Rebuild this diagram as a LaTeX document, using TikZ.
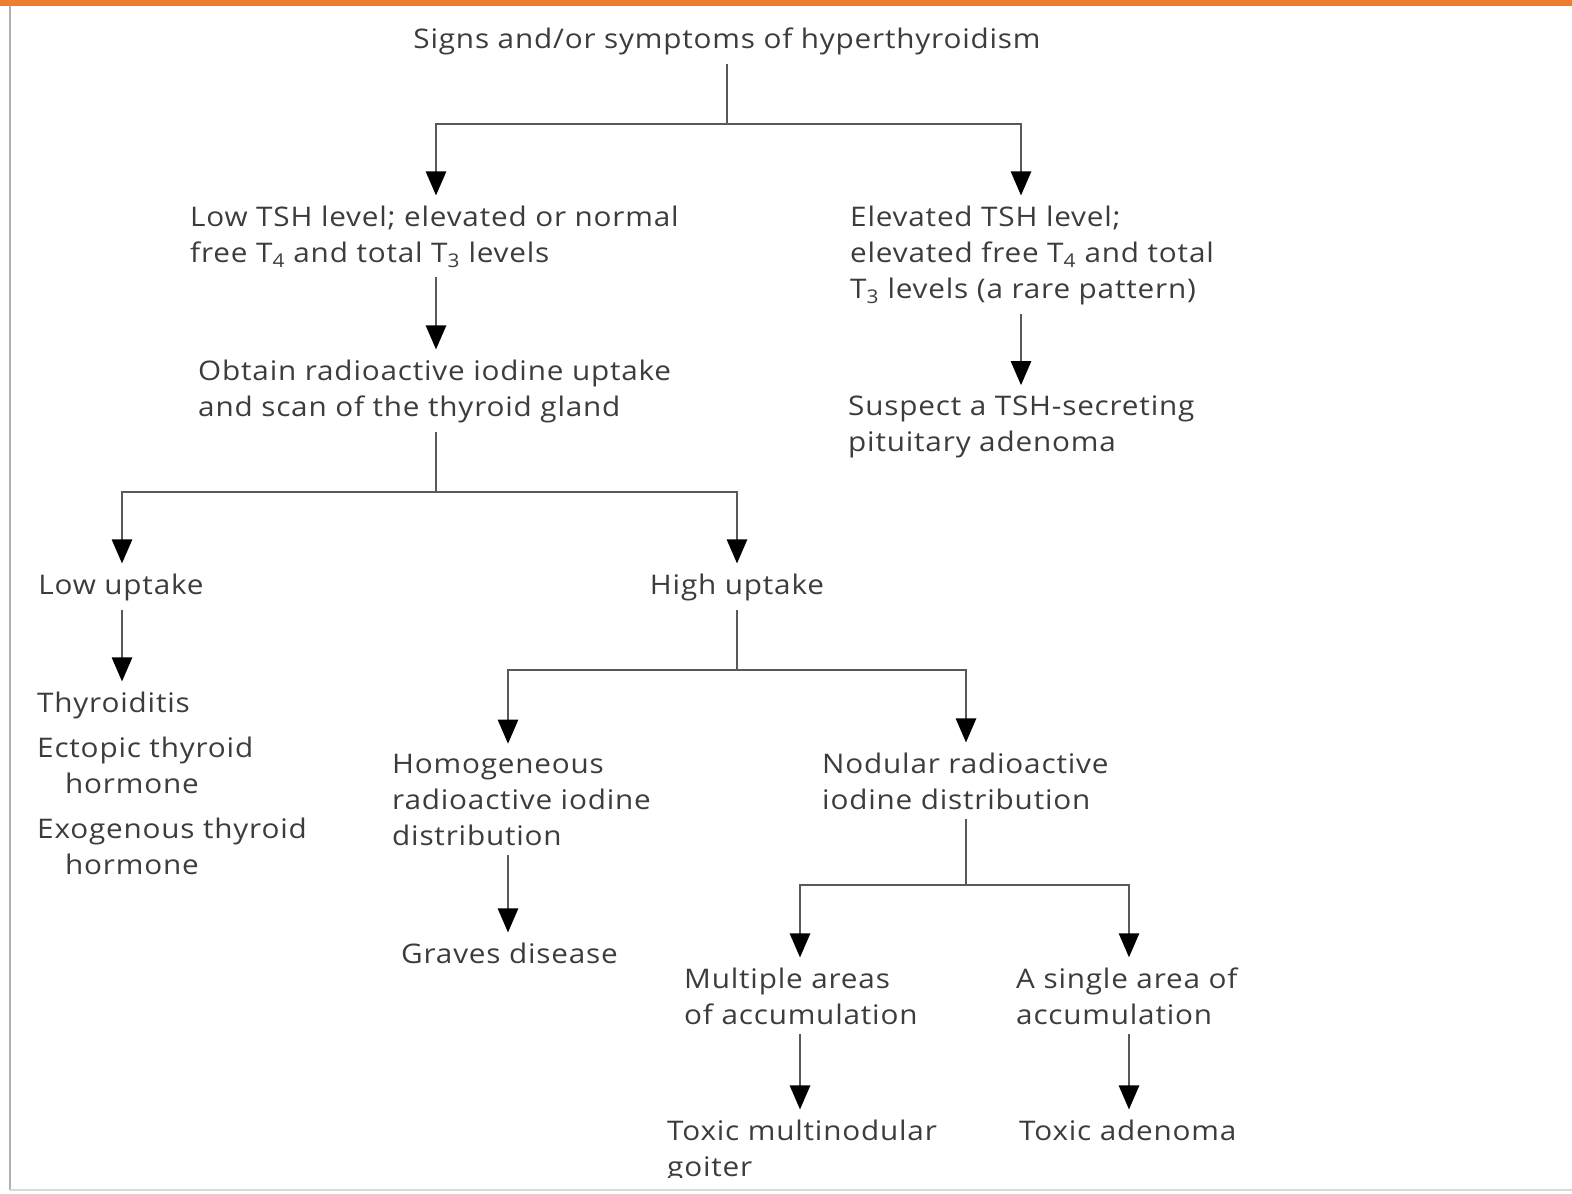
\documentclass[tikz,border=0pt]{standalone}
\usepackage{fontspec}
\setmainfont[FakeStretch=1.1,LetterSpace=3]{Open Sans}
\usetikzlibrary{arrows.meta}
\definecolor{orangebar}{RGB}{237,125,49}
\definecolor{txt}{RGB}{60,60,60}
\begin{document}
\begin{tikzpicture}[x=1pt,y=-1pt,
  lbl/.style={inner sep=0pt, outer ysep=10pt, align=left, text=txt, font=\fontsize{27}{36}\selectfont},
  conn/.style={line width=2.6pt, draw=black!65},
  arr/.style={conn, -{Triangle[length=24pt,width=20pt,color=black]}}]
\useasboundingbox (0,0) rectangle (1572,1194);
% frame
\fill[orangebar] (0,0) rectangle (1572,6);
\draw[line width=2pt, black!30] (10,6) -- (10,1190);
\draw[line width=1.5pt, black!15] (10,1190) -- (1572,1190);
\begin{scope}
\clip (0,6) rectangle (1572,1177);
% column coordinates
\coordinate (cA) at (436,0);
\coordinate (cB) at (1021,0);
\coordinate (cC) at (122,0);
\coordinate (cD) at (737,0);
\coordinate (cE) at (508,0);
\coordinate (cF) at (966,0);
\coordinate (cG) at (800,0);
\coordinate (cH) at (1129,0);
\coordinate (j0) at (727,124);
\coordinate (j1) at (436,492);
\coordinate (j2) at (737,670);
\coordinate (j3) at (966,885);
% nodes (base anchor = baseline of the last line)
\node[lbl, anchor=base] (title) at (727,48) {Signs and/or symptoms of hyperthyroidism};
\node[lbl, anchor=base west] (lowtsh) at (190,262) {Low TSH level; elevated or normal\\free T\textsubscript{4} and total T\textsubscript{3} levels};
\node[lbl, anchor=base west] (elev) at (850,298) {Elevated TSH level;\\elevated free T\textsubscript{4} and total\\T\textsubscript{3} levels (a rare pattern)};
\node[lbl, anchor=base west] (obtain) at (198,416) {Obtain radioactive iodine uptake\\and scan of the thyroid gland};
\node[lbl, anchor=base west] (suspect) at (848,451) {Suspect a TSH-secreting\\pituitary adenoma};
\node[lbl, anchor=base] (lowup) at (121,594) {Low uptake};
\node[lbl, anchor=base] (highup) at (737,594) {High uptake};
\node[lbl, anchor=base west] (causes) at (37,874) {Thyroiditis\\[9pt]Ectopic thyroid\\\hspace*{28pt}hormone\\[9pt]Exogenous thyroid\\\hspace*{28pt}hormone};
\node[lbl, anchor=base west] (homog) at (392,845) {Homogeneous\\radioactive iodine\\distribution};
\node[lbl, anchor=base west] (nodular) at (822,809) {Nodular radioactive\\iodine distribution};
\node[lbl, anchor=base west] (graves) at (401,963) {Graves disease};
\node[lbl, anchor=base west] (multiple) at (684,1024) {Multiple areas\\of accumulation};
\node[lbl, anchor=base west] (single) at (1016,1024) {A single area of\\accumulation};
\node[lbl, anchor=base west] (toxmn) at (667,1176) {Toxic multinodular\\goiter};
\node[lbl, anchor=base west] (toxad) at (1019,1140) {Toxic adenoma};
% connectors
\draw[conn] (title.south) -- (j0);
\draw[arr] (j0) -| (cA |- lowtsh.north);
\draw[arr] (j0) -| (cB |- elev.north);
\draw[arr] (cA |- lowtsh.south) -- (cA |- obtain.north);
\draw[arr] (cB |- elev.south) -- (cB |- suspect.north);
\draw[conn] (cA |- obtain.south) -- (j1);
\draw[arr] (j1) -| (cC |- lowup.north);
\draw[arr] (j1) -| (cD |- highup.north);
\draw[arr] (cC |- lowup.south) -- (cC |- causes.north);
\draw[conn] (cD |- highup.south) -- (j2);
\draw[arr] (j2) -| (cE |- homog.north);
\draw[arr] (j2) -| (cF |- nodular.north);
\draw[arr] (cE |- homog.south) -- (cE |- graves.north);
\draw[conn] (cF |- nodular.south) -- (j3);
\draw[arr] (j3) -| (cG |- multiple.north);
\draw[arr] (j3) -| (cH |- single.north);
\draw[arr] (cG |- multiple.south) -- (cG |- toxmn.north);
\draw[arr] (cH |- single.south) -- (cH |- toxad.north);
\end{scope}
\end{tikzpicture}
\end{document}
